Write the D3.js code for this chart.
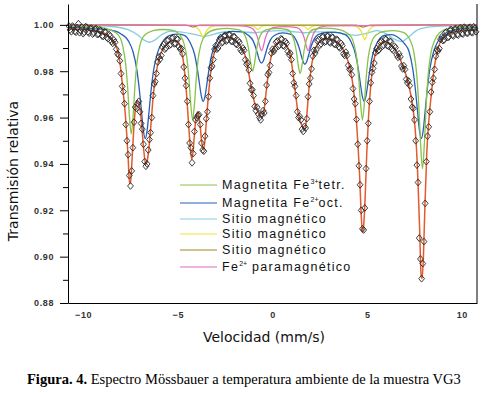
<!DOCTYPE html>
<html>
<head>
<meta charset="utf-8">
<script src="https://cdn.jsdelivr.net/npm/d3@7"></script>
<style>
  body { margin: 0; background: #fff; }
  svg { display: block; }
</style>
</head>
<body>
<div id="chart"></div>
<script>
// axis ticks
const xTicks = [-10, -5, 0, 5, 10];
const yMajor = [0.88, 0.90, 0.92, 0.94, 0.96, 0.98, 1.00];
const yMinor = [0.89, 0.91, 0.93, 0.95, 0.97, 0.99];

// measured points, first half of the channels (velocity, transmission)
const obsV = [
  -10.75, -10.625, -10.5, -10.375, -10.25, -10.125, -10.0, -9.875, -9.75, -9.625,
  -9.5, -9.375, -9.25, -9.125, -9.0, -8.875, -8.75, -8.625, -8.5, -8.375,
  -8.25, -8.125, -8.0, -7.875, -7.75, -7.625, -7.5, -7.375, -7.25, -7.125,
  -7.0, -6.875, -6.75, -6.625, -6.5, -6.375, -6.25, -6.125, -6.0, -5.875,
  -5.75, -5.625, -5.5, -5.375, -5.25, -5.125, -5.0, -4.875, -4.75, -4.625,
  -4.5, -4.375, -4.25, -4.125, -4.0, -3.875, -3.75, -3.625, -3.5, -3.375,
  -3.25, -3.125, -3.0, -2.875, -2.75, -2.625, -2.5, -2.375, -2.25, -2.125,
  -2.0, -1.875, -1.75, -1.625, -1.5, -1.375, -1.25, -1.125, -1.0, -0.875,
  -0.75, -0.625, -0.5, -0.375, -0.25, -0.125, 0.0, 0.125, 0.25, 0.375,
  0.5, 0.625, 0.75, 0.875, 1.0, 1.125, 1.25, 1.375, 1.5, 1.625,
  1.75, 1.875, 2.0, 2.125, 2.25, 2.375, 2.5, 2.625, 2.75, 2.875,
  3.0, 3.125, 3.25, 3.375, 3.5, 3.625, 3.75, 3.875, 4.0, 4.125,
  4.25, 4.375, 4.5, 4.625, 4.75, 4.875, 5.0, 5.125, 5.25, 5.375,
  5.5, 5.625, 5.75, 5.875, 6.0, 6.125, 6.25, 6.375, 6.5, 6.625,
  6.75, 6.875, 7.0, 7.125, 7.25, 7.375, 7.5, 7.625, 7.75, 7.875,
  8.0, 8.125, 8.25, 8.375, 8.5, 8.625, 8.75, 8.875, 9.0, 9.125,
  9.25, 9.375, 9.5, 9.625, 9.75, 9.875, 10.0, 10.125, 10.25, 10.375,
  10.5, 10.625, 10.75
];
const obsT = [
  0.9995, 0.9970, 0.9990, 0.9968, 1.0005, 0.9975, 0.9962, 0.9992, 0.9970, 0.9985,
  0.9960, 0.9982, 0.9958, 0.9978, 0.9952, 0.9970, 0.9945, 0.9958, 0.9928, 0.9935,
  0.9895, 0.9870, 0.9790, 0.9712, 0.9570, 0.9440, 0.9305, 0.9470, 0.9645, 0.9660,
  0.9625, 0.9550, 0.9410, 0.9400, 0.9505, 0.9600, 0.9745, 0.9790, 0.9862, 0.9868,
  0.9915, 0.9900, 0.9935, 0.9915, 0.9945, 0.9920, 0.9938, 0.9895, 0.9875, 0.9770,
  0.9670, 0.9490, 0.9405, 0.9540, 0.9600, 0.9612, 0.9490, 0.9455, 0.9595, 0.9690,
  0.9815, 0.9850, 0.9910, 0.9900, 0.9945, 0.9925, 0.9955, 0.9935, 0.9958, 0.9928,
  0.9948, 0.9915, 0.9925, 0.9885, 0.9890, 0.9830, 0.9805, 0.9720, 0.9695, 0.9630,
  0.9615, 0.9590, 0.9630, 0.9670, 0.9785, 0.9825, 0.9895, 0.9895, 0.9930, 0.9912,
  0.9938, 0.9908, 0.9920, 0.9872, 0.9850, 0.9750, 0.9695, 0.9600, 0.9590, 0.9540,
  0.9555, 0.9690, 0.9770, 0.9865, 0.9878, 0.9930, 0.9912, 0.9948, 0.9925, 0.9952,
  0.9925, 0.9948, 0.9918, 0.9938, 0.9905, 0.9920, 0.9875, 0.9882, 0.9825, 0.9810,
  0.9725, 0.9660, 0.9485, 0.9310, 0.9120, 0.9210, 0.9500, 0.9670, 0.9795, 0.9835,
  0.9898, 0.9892, 0.9930, 0.9912, 0.9938, 0.9908, 0.9928, 0.9890, 0.9902, 0.9860,
  0.9862, 0.9810, 0.9808, 0.9750, 0.9738, 0.9645, 0.9590, 0.9395, 0.9080, 0.8905,
  0.9065, 0.9410, 0.9560, 0.9710, 0.9770, 0.9865, 0.9888, 0.9938, 0.9932, 0.9966,
  0.9945, 0.9978, 0.9955, 0.9982, 0.9958, 0.9985, 0.9962, 0.9990, 0.9965, 0.9988,
  0.9968, 0.9992, 0.9970
];

// measured points, second half of the channels (folded, interleaved)
const obs2V = [
  -10.6875, -10.5625, -10.4375, -10.3125, -10.1875, -10.0625, -9.9375, -9.8125, -9.6875, -9.5625,
  -9.4375, -9.3125, -9.1875, -9.0625, -8.9375, -8.8125, -8.6875, -8.5625, -8.4375, -8.3125,
  -8.1875, -8.0625, -7.9375, -7.8125, -7.6875, -7.5625, -7.4375, -7.3125, -7.1875, -7.0625,
  -6.9375, -6.8125, -6.6875, -6.5625, -6.4375, -6.3125, -6.1875, -6.0625, -5.9375, -5.8125,
  -5.6875, -5.5625, -5.4375, -5.3125, -5.1875, -5.0625, -4.9375, -4.8125, -4.6875, -4.5625,
  -4.4375, -4.3125, -4.1875, -4.0625, -3.9375, -3.8125, -3.6875, -3.5625, -3.4375, -3.3125,
  -3.1875, -3.0625, -2.9375, -2.8125, -2.6875, -2.5625, -2.4375, -2.3125, -2.1875, -2.0625,
  -1.9375, -1.8125, -1.6875, -1.5625, -1.4375, -1.3125, -1.1875, -1.0625, -0.9375, -0.8125,
  -0.6875, -0.5625, -0.4375, -0.3125, -0.1875, -0.0625, 0.0625, 0.1875, 0.3125, 0.4375,
  0.5625, 0.6875, 0.8125, 0.9375, 1.0625, 1.1875, 1.3125, 1.4375, 1.5625, 1.6875,
  1.8125, 1.9375, 2.0625, 2.1875, 2.3125, 2.4375, 2.5625, 2.6875, 2.8125, 2.9375,
  3.0625, 3.1875, 3.3125, 3.4375, 3.5625, 3.6875, 3.8125, 3.9375, 4.0625, 4.1875,
  4.3125, 4.4375, 4.5625, 4.6875, 4.8125, 4.9375, 5.0625, 5.1875, 5.3125, 5.4375,
  5.5625, 5.6875, 5.8125, 5.9375, 6.0625, 6.1875, 6.3125, 6.4375, 6.5625, 6.6875,
  6.8125, 6.9375, 7.0625, 7.1875, 7.3125, 7.4375, 7.5625, 7.6875, 7.8125, 7.9375,
  8.0625, 8.1875, 8.3125, 8.4375, 8.5625, 8.6875, 8.8125, 8.9375, 9.0625, 9.1875,
  9.3125, 9.4375, 9.5625, 9.6875, 9.8125, 9.9375, 10.0625, 10.1875, 10.3125, 10.4375,
  10.5625, 10.6875
];
const obs2T = [
  0.9978, 0.9995, 0.9972, 0.9988, 0.9966, 0.9990, 0.9968, 0.9990, 0.9964, 0.9986,
  0.9965, 0.9984, 0.9960, 0.9975, 0.9950, 0.9968, 0.9940, 0.9952, 0.9920, 0.9925,
  0.9875, 0.9845, 0.9735, 0.9660, 0.9500, 0.9350, 0.9370, 0.9580, 0.9640, 0.9670,
  0.9575, 0.9485, 0.9390, 0.9460, 0.9535, 0.9695, 0.9755, 0.9840, 0.9852, 0.9905,
  0.9895, 0.9932, 0.9912, 0.9942, 0.9918, 0.9940, 0.9905, 0.9898, 0.9818, 0.9738,
  0.9570, 0.9470, 0.9445, 0.9590, 0.9610, 0.9570, 0.9460, 0.9520, 0.9625, 0.9770,
  0.9822, 0.9895, 0.9895, 0.9935, 0.9922, 0.9952, 0.9930, 0.9958, 0.9930, 0.9950,
  0.9918, 0.9932, 0.9892, 0.9900, 0.9850, 0.9835, 0.9748, 0.9720, 0.9648, 0.9645,
  0.9600, 0.9615, 0.9620, 0.9740, 0.9795, 0.9878, 0.9885, 0.9925, 0.9908, 0.9940,
  0.9910, 0.9928, 0.9885, 0.9878, 0.9790, 0.9735, 0.9625, 0.9605, 0.9550, 0.9562,
  0.9595, 0.9745, 0.9810, 0.9890, 0.9892, 0.9936, 0.9918, 0.9950, 0.9928, 0.9952,
  0.9922, 0.9946, 0.9915, 0.9935, 0.9900, 0.9910, 0.9868, 0.9868, 0.9808, 0.9785,
  0.9680, 0.9592, 0.9392, 0.9200, 0.9115, 0.9380, 0.9575, 0.9750, 0.9812, 0.9880,
  0.9888, 0.9925, 0.9908, 0.9940, 0.9910, 0.9930, 0.9896, 0.9908, 0.9870, 0.9875,
  0.9822, 0.9824, 0.9765, 0.9758, 0.9680, 0.9640, 0.9500, 0.9320, 0.8990, 0.8970,
  0.9230, 0.9520, 0.9625, 0.9752, 0.9808, 0.9892, 0.9898, 0.9948, 0.9935, 0.9970,
  0.9948, 0.9980, 0.9952, 0.9984, 0.9956, 0.9988, 0.9960, 0.9986, 0.9964, 0.9990,
  0.9966, 0.9985
];

// total fit
const fitPts = [
  [-10.8, 0.9982], [-10.0, 0.9980], [-9.5, 0.9976], [-9.0, 0.9968], [-8.7, 0.9955],
  [-8.5, 0.9940], [-8.3, 0.9915], [-8.15, 0.9880], [-8.0, 0.9800], [-7.9, 0.9720],
  [-7.8, 0.9640], [-7.7, 0.9530], [-7.62, 0.9420], [-7.55, 0.9315], [-7.5, 0.9320],
  [-7.43, 0.9400], [-7.35, 0.9520], [-7.25, 0.9630], [-7.13, 0.9670], [-7.0, 0.9640],
  [-6.9, 0.9560], [-6.8, 0.9460], [-6.7, 0.9400], [-6.6, 0.9420], [-6.5, 0.9490],
  [-6.4, 0.9590], [-6.28, 0.9710], [-6.15, 0.9790], [-6.0, 0.9850], [-5.8, 0.9895],
  [-5.55, 0.9920], [-5.3, 0.9932], [-5.05, 0.9930], [-4.85, 0.9900], [-4.72, 0.9850],
  [-4.62, 0.9780], [-4.52, 0.9680], [-4.43, 0.9570], [-4.35, 0.9480], [-4.27, 0.9420],
  [-4.2, 0.9450], [-4.12, 0.9530], [-4.03, 0.9605], [-3.93, 0.9625], [-3.83, 0.9570],
  [-3.73, 0.9490], [-3.65, 0.9460], [-3.57, 0.9500], [-3.48, 0.9600], [-3.38, 0.9700],
  [-3.27, 0.9790], [-3.12, 0.9865], [-2.95, 0.9905], [-2.7, 0.9935], [-2.4, 0.9945],
  [-2.1, 0.9940], [-1.85, 0.9925], [-1.6, 0.9895], [-1.4, 0.9855], [-1.25, 0.9790],
  [-1.1, 0.9720], [-0.95, 0.9665], [-0.8, 0.9630], [-0.65, 0.9605], [-0.55, 0.9600],
  [-0.45, 0.9630], [-0.35, 0.9700], [-0.22, 0.9790], [-0.08, 0.9860], [0.1, 0.9905],
  [0.35, 0.9925], [0.6, 0.9922], [0.82, 0.9900], [0.98, 0.9850], [1.1, 0.9780],
  [1.22, 0.9700], [1.35, 0.9620], [1.48, 0.9580], [1.6, 0.9560], [1.7, 0.9545],
  [1.8, 0.9600], [1.9, 0.9700], [2.02, 0.9800], [2.18, 0.9875], [2.4, 0.9920],
  [2.75, 0.9940], [3.2, 0.9935], [3.6, 0.9910], [3.9, 0.9865], [4.1, 0.9810],
  [4.25, 0.9740], [4.38, 0.9640], [4.5, 0.9500], [4.6, 0.9350], [4.68, 0.9190],
  [4.75, 0.9105], [4.82, 0.9140], [4.9, 0.9270], [4.98, 0.9450], [5.07, 0.9600],
  [5.18, 0.9730], [5.32, 0.9830], [5.55, 0.9900], [5.9, 0.9928], [6.2, 0.9918],
  [6.55, 0.9885], [6.85, 0.9830], [7.1, 0.9770], [7.3, 0.9700], [7.45, 0.9620],
  [7.58, 0.9500], [7.68, 0.9330], [7.77, 0.9120], [7.85, 0.8920], [7.9, 0.8905],
  [7.97, 0.9000], [8.05, 0.9220], [8.15, 0.9450], [8.27, 0.9600], [8.4, 0.9710],
  [8.55, 0.9820], [8.75, 0.9900], [9.0, 0.9945], [9.4, 0.9965], [10.0, 0.9975],
  [10.8, 0.9978]
];

// Magnetita Fe3+ tetr.
const greenPts = [
  [-10.8, 0.9995], [-9.5, 0.9993], [-8.8, 0.9985], [-8.16, 0.9958], [-7.91, 0.9909],
  [-7.76, 0.9835], [-7.66, 0.9742], [-7.56, 0.9610], [-7.46, 0.9530], [-7.36, 0.9610],
  [-7.26, 0.9742], [-7.16, 0.9835], [-7.01, 0.9909], [-6.76, 0.9955], [-6.3, 0.9975],
  [-5.8, 0.9980], [-5.2, 0.9975], [-4.92, 0.9958], [-4.67, 0.9918], [-4.52, 0.9856],
  [-4.42, 0.9775], [-4.32, 0.9660], [-4.22, 0.9590], [-4.12, 0.9660], [-4.02, 0.9775],
  [-3.92, 0.9856], [-3.77, 0.9918], [-3.52, 0.9958], [-3.0, 0.9980], [-2.4, 0.9985],
  [-1.75, 0.9978], [-1.5, 0.9961], [-1.35, 0.9930], [-1.25, 0.9890], [-1.15, 0.9834],
  [-1.05, 0.9800], [-0.95, 0.9834], [-0.85, 0.9890], [-0.75, 0.9930], [-0.6, 0.9961],
  [-0.35, 0.9978], [0.2, 0.9985], [0.76, 0.9980], [1.01, 0.9960], [1.16, 0.9927],
  [1.26, 0.9885], [1.36, 0.9826], [1.46, 0.9790], [1.56, 0.9826], [1.66, 0.9885],
  [1.76, 0.9927], [1.91, 0.9960], [2.16, 0.9980], [2.8, 0.9986], [3.4, 0.9982],
  [4.05, 0.9958], [4.3, 0.9918], [4.45, 0.9856], [4.55, 0.9775], [4.65, 0.9660],
  [4.75, 0.9590], [4.85, 0.9660], [4.95, 0.9775], [5.05, 0.9856], [5.2, 0.9918],
  [5.45, 0.9955], [5.9, 0.9972], [6.4, 0.9975], [6.9, 0.9968], [7.27, 0.9934],
  [7.47, 0.9880], [7.62, 0.9783], [7.72, 0.9660], [7.82, 0.9486], [7.92, 0.9380],
  [8.02, 0.9486], [8.12, 0.9660], [8.22, 0.9783], [8.37, 0.9880], [8.57, 0.9934],
  [8.82, 0.9966], [9.3, 0.9984], [10.8, 0.9994]
];

// Magnetita Fe2+ oct.
const bluePts = [
  [-10.8, 0.9990], [-9.5, 0.9984], [-8.6, 0.9978], [-8.02, 0.9962], [-7.62, 0.9932],
  [-7.37, 0.9885], [-7.17, 0.9809], [-7.02, 0.9711], [-6.92, 0.9626], [-6.82, 0.9545],
  [-6.72, 0.9510], [-6.62, 0.9545], [-6.52, 0.9626], [-6.42, 0.9711], [-6.27, 0.9809],
  [-6.07, 0.9880], [-5.82, 0.9925], [-5.42, 0.9955], [-5.0, 0.9960], [-4.66, 0.9955],
  [-4.36, 0.9925], [-4.11, 0.9871], [-3.96, 0.9805], [-3.86, 0.9748], [-3.76, 0.9694],
  [-3.66, 0.9670], [-3.56, 0.9694], [-3.46, 0.9748], [-3.36, 0.9805], [-3.21, 0.9871],
  [-2.96, 0.9925], [-2.6, 0.9960], [-2.1, 0.9972], [-1.6, 0.9970], [-1.28, 0.9955],
  [-1.03, 0.9932], [-0.88, 0.9900], [-0.78, 0.9872], [-0.68, 0.9845], [-0.58, 0.9835],
  [-0.48, 0.9845], [-0.38, 0.9872], [-0.28, 0.9900], [-0.13, 0.9932], [0.12, 0.9955],
  [0.55, 0.9965], [1.01, 0.9958], [1.26, 0.9932], [1.41, 0.9900], [1.51, 0.9870],
  [1.61, 0.9842], [1.71, 0.9830], [1.81, 0.9842], [1.91, 0.9870], [2.01, 0.9900],
  [2.16, 0.9932], [2.41, 0.9958], [2.9, 0.9968], [3.3, 0.9968], [3.84, 0.9958],
  [4.14, 0.9928], [4.39, 0.9871], [4.54, 0.9805], [4.64, 0.9748], [4.74, 0.9694],
  [4.84, 0.9670], [4.94, 0.9694], [5.04, 0.9748], [5.14, 0.9805], [5.29, 0.9871],
  [5.54, 0.9925], [5.9, 0.9955], [6.3, 0.9958], [6.56, 0.9950], [6.96, 0.9920],
  [7.21, 0.9885], [7.41, 0.9809], [7.56, 0.9711], [7.66, 0.9626], [7.76, 0.9545],
  [7.86, 0.9510], [7.96, 0.9545], [8.06, 0.9626], [8.16, 0.9711], [8.31, 0.9809],
  [8.51, 0.9885], [8.76, 0.9932], [9.16, 0.9965], [9.7, 0.9980], [10.8, 0.9988]
];

// Sitio magnético (1)
const cyanPts = [
  [-10.8, 1.0000], [-8.5, 0.9993], [-7.6, 0.9978], [-7.1, 0.9955], [-6.8, 0.9935],
  [-6.5, 0.9925], [-6.2, 0.9935], [-5.9, 0.9955], [-5.4, 0.9972], [-4.9, 0.9970],
  [-4.3, 0.9962], [-3.9, 0.9955], [-3.6, 0.9950], [-3.3, 0.9955], [-2.8, 0.9966],
  [-2.2, 0.9972], [-1.5, 0.9970], [-1.0, 0.9966], [-0.5, 0.9970], [0.3, 0.9975],
  [1.2, 0.9970], [1.7, 0.9966], [2.3, 0.9970], [3.2, 0.9970], [3.8, 0.9960],
  [4.4, 0.9955], [4.9, 0.9962], [5.5, 0.9975], [6.0, 0.9962], [6.4, 0.9940],
  [6.8, 0.9928], [7.2, 0.9948], [7.6, 0.9975], [8.2, 0.9990], [9.0, 0.9995],
  [10.8, 0.9998]
];

// Sitio magnético (2)
const yellowPts = [
  [-10.8, 1.0000], [-4.3, 0.9998], [-4.0, 0.9988], [-3.85, 0.9975], [-3.75, 0.9958],
  [-3.66, 0.9945], [-3.57, 0.9958], [-3.47, 0.9975], [-3.32, 0.9988], [-3.0, 0.9997],
  [-1.2, 0.9997], [-0.95, 0.9992], [-0.78, 0.9980], [-0.61, 0.9992], [-0.35, 0.9997],
  [1.45, 0.9997], [1.71, 0.9992], [1.88, 0.9980], [2.05, 0.9992], [2.3, 0.9997],
  [4.2, 0.9998], [4.53, 0.9988], [4.68, 0.9972], [4.78, 0.9952], [4.87, 0.9935],
  [4.96, 0.9952], [5.06, 0.9972], [5.21, 0.9988], [5.5, 0.9998], [10.8, 1.0000]
];

// Sitio magnético (3)
const olivePts = [
  [-10.8, 1.0000], [-4.6, 0.9999], [-4.3, 0.9993], [-4.2, 0.9990], [-4.1, 0.9993],
  [-3.8, 0.9999], [4.4, 0.9999], [4.7, 0.9992], [4.8, 0.9990], [4.9, 0.9993],
  [5.2, 0.9999], [10.8, 1.0000]
];

// Fe2+ paramagnético
const pinkPts = [
  [-10.8, 1.0000], [-2.0, 0.9997], [-1.58, 0.9996], [-1.18, 0.9989], [-0.93, 0.9972],
  [-0.78, 0.9943], [-0.68, 0.9909], [-0.58, 0.9888], [-0.48, 0.9909], [-0.38, 0.9943],
  [-0.23, 0.9972], [0.02, 0.9988], [0.65, 0.9992], [1.28, 0.9988], [1.53, 0.9972],
  [1.68, 0.9943], [1.78, 0.9909], [1.88, 0.9888], [1.98, 0.9909], [2.08, 0.9943],
  [2.23, 0.9972], [2.48, 0.9989], [2.88, 0.9996], [10.8, 1.0000]
];

const legendNames = [
  ["Magnetita Fe", "3+", "tetr."],
  ["Magnetita Fe", "2+", "oct."],
  ["Sitio magnético", "", ""],
  ["Sitio magnético", "", ""],
  ["Sitio magnético", "", ""],
  ["Fe", "2+", " paramagnético"]
];
const legendColors = ["#86c34a", "#2660b5", "#86cde3", "#efe436", "#a08a22", "#e46ac4"];

const width = 484, height = 393;
const plotL = 68, plotR = 477, plotT = 4, plotB = 303;

const svg = d3.select("#chart")
    .append("svg")
    .attr("width", width)
    .attr("height", height)
    .style("background", "#fff");

const x = d3.scaleLinear().domain([-10.8, 10.8]).range([plotL, plotR]);
const y = d3.scaleLinear().domain([0.88, 1.009]).range([plotB, plotT]);

const line = d3.line()
    .x(d => x(d[0]))
    .y(d => y(d[1]))
    .curve(d3.curveMonotoneX);

// component curves
const comps = [
    [cyanPts, legendColors[2]],
    [yellowPts, legendColors[3]],
    [olivePts, legendColors[4]],
    [pinkPts, legendColors[5]],
    [bluePts, legendColors[1]],
    [greenPts, legendColors[0]]
];
comps.forEach(function (c) {
    svg.append("path")
        .attr("d", line(c[0]))
        .attr("fill", "none")
        .attr("stroke", c[1])
        .attr("stroke-width", 1.3);
});

// total fit
svg.append("path")
    .attr("d", line(fitPts))
    .attr("fill", "none")
    .attr("stroke", "#e35a2b")
    .attr("stroke-width", 1.5);

// data diamonds
function diamond(cx, cy) {
    return `M${cx},${cy - 3.4}L${cx + 2.9},${cy}L${cx},${cy + 3.4}L${cx - 2.9},${cy}Z`;
}
function drawObs(vs, ts) {
    for (let i = 0; i < vs.length; i++) {
        svg.append("path")
            .attr("d", diamond(x(vs[i]), y(ts[i])))
            .attr("fill", "none")
            .attr("stroke", "#2a2a2a")
            .attr("stroke-width", 0.9);
    }
}
drawObs(obsV, obsT);
drawObs(obs2V, obs2T);

// axes
const yAxis = svg.append("g")
    .attr("transform", `translate(${plotL},0)`)
    .call(d3.axisLeft(y).tickValues(yMajor).tickFormat(d3.format(".2f")).tickSize(8).tickSizeOuter(0).tickPadding(6));
yAxis.selectAll("text")
    .attr("font-family", "Liberation Sans, Arial, sans-serif")
    .attr("font-weight", "bold")
    .attr("font-size", "9px")
    .attr("letter-spacing", "0.6px")
    .attr("fill", "#333");

svg.append("g")
    .attr("transform", `translate(${plotL},0)`)
    .call(d3.axisLeft(y).tickValues(yMinor).tickFormat("").tickSize(5).tickSizeOuter(0))
    .select(".domain").remove();

const xAxis = svg.append("g")
    .attr("transform", `translate(0,${plotB})`)
    .call(d3.axisBottom(x).tickValues(xTicks).tickSize(0).tickSizeOuter(0).tickPadding(9));
xAxis.selectAll("text")
    .attr("font-family", "Liberation Sans, Arial, sans-serif")
    .attr("font-weight", "bold")
    .attr("font-size", "9px")
    .attr("letter-spacing", "0.6px")
    .attr("fill", "#333");

// right frame line
svg.append("line")
    .attr("x1", plotR).attr("x2", plotR)
    .attr("y1", plotT).attr("y2", plotB)
    .attr("stroke", "#000");

// axis titles
svg.append("text")
    .attr("transform", "translate(18,171) rotate(-90)")
    .attr("text-anchor", "middle")
    .attr("font-family", "DejaVu Sans, sans-serif")
    .attr("font-size", "14px")
    .attr("fill", "#111")
    .text("Transmisión relativa");

svg.append("text")
    .attr("x", 264)
    .attr("y", 342)
    .attr("text-anchor", "middle")
    .attr("font-family", "DejaVu Sans, sans-serif")
    .attr("font-size", "14px")
    .attr("fill", "#111")
    .text("Velocidad (mm/s)");

// legend
for (let i = 0; i < legendNames.length; i++) {
    const ly = [185, 203, 219, 234, 250, 267][i];
    svg.append("line")
        .attr("x1", 180).attr("x2", 217)
        .attr("y1", ly).attr("y2", ly)
        .attr("stroke", legendColors[i])
        .attr("stroke-width", 1.2);
    const t = svg.append("text")
        .attr("x", 222)
        .attr("y", ly + 4)
        .attr("font-family", "Liberation Sans, Arial, sans-serif")
        .attr("font-size", "12.5px")
        .attr("letter-spacing", "1.3px")
        .attr("fill", "#111");
    t.append("tspan").text(legendNames[i][0]);
    if (legendNames[i][1]) {
        t.append("tspan").attr("dy", -5).attr("font-size", "7px").attr("letter-spacing", "0px").text(legendNames[i][1]);
        t.append("tspan").attr("dy", 5).text(legendNames[i][2]);
    }
}

// caption
const cap = svg.append("text")
    .attr("x", 27)
    .attr("y", 384)
    .attr("font-family", "Liberation Serif, Times New Roman, serif")
    .attr("font-size", "14.5px")
    .attr("fill", "#000");
cap.append("tspan").attr("font-weight", "bold").text("Figura. 4.");
cap.append("tspan").text(" Espectro Mössbauer a temperatura ambiente de la muestra VG3");
</script>
</body>
</html>
